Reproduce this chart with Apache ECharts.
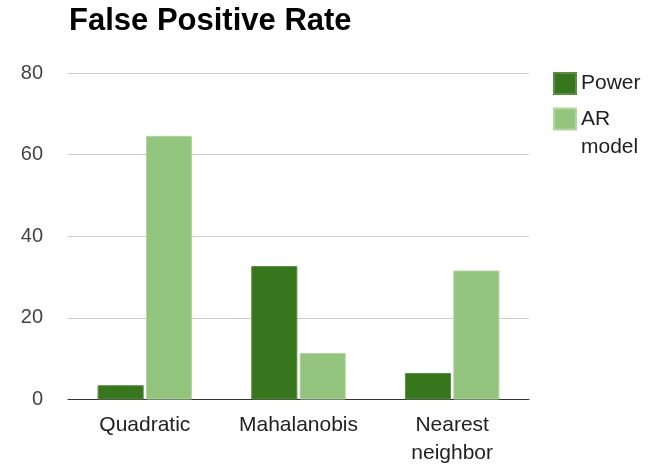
<!DOCTYPE html>
<html>
<head>
<meta charset="utf-8">
<script src="https://cdn.jsdelivr.net/npm/echarts@6/dist/echarts.min.js"></script>
<style>
  html, body { margin: 0; padding: 0; background: #fff; }
  #chart { width: 660px; height: 466px; }
</style>
</head>
<body>
<div id="chart"></div>
<script>
// Detection methods compared on the x axis
const categories = ['Quadratic', 'Mahalanobis', 'Nearest\nneighbor'];
// False positive rate (%) for each feature set
const powerValues = [3.5, 32.7, 6.5];
const arModelValues = [64.6, 11.4, 31.6];
// Value axis ticks
const yTicks = [0, 20, 40, 60, 80];

const FONT = '"Liberation Sans", Arial, sans-serif';

const chart = echarts.init(document.getElementById('chart'), null, { renderer: 'canvas' });

chart.setOption({
  animation: false,
  backgroundColor: '#ffffff',
  title: {
    text: 'False Positive Rate',
    left: 69,
    top: 6,
    padding: 0,
    textStyle: { fontFamily: FONT, fontSize: 31, fontWeight: 'bold', color: '#000' }
  },
  legend: [
    {
      data: ['Power'],
      orient: 'vertical',
      left: 553,
      top: 72,
      padding: 0,
      itemWidth: 22,
      itemHeight: 21,
      icon: 'rect',
      textStyle: { fontFamily: FONT, fontSize: 21, color: '#222' }
    },
    {
      data: ['AR model'],
      orient: 'vertical',
      left: 553,
      top: 77,
      padding: 0,
      itemWidth: 22,
      itemHeight: 21,
      icon: 'rect',
      formatter: () => ' \nAR\nmodel',
      textStyle: { fontFamily: FONT, fontSize: 21, color: '#222', lineHeight: 28 }
    }
  ],
  grid: {
    left: 68, right: 131, top: 73, bottom: 66.5,
    containLabel: false,
    outerBoundsMode: 'none'
  },
  xAxis: {
    type: 'category',
    data: categories,
    axisTick: { show: false },
    axisLine: { lineStyle: { color: '#333', width: 1 } },
    axisLabel: {
      interval: 0,
      fontFamily: FONT, fontSize: 21, color: '#222',
      margin: 12, lineHeight: 28
    }
  },
  yAxis: {
    type: 'value',
    min: yTicks[0],
    max: yTicks[yTicks.length - 1],
    interval: yTicks[1] - yTicks[0],
    axisLine: { show: false },
    axisTick: { show: false },
    splitLine: { lineStyle: { color: '#cccccc', width: 1 } },
    axisLabel: { fontFamily: FONT, fontSize: 20, color: '#444', margin: 25 }
  },
  series: [
    {
      name: 'Power',
      type: 'bar',
      data: powerValues,
      barWidth: '30%',
      barGap: '5%',
      itemStyle: { color: '#38761d', borderColor: '#5b8d45', borderWidth: 1 }
    },
    {
      name: 'AR model',
      type: 'bar',
      data: arModelValues,
      barWidth: '30%',
      itemStyle: { color: '#93c47d', borderColor: '#b2d6a2', borderWidth: 1 }
    }
  ]
});
</script>
</body>
</html>
